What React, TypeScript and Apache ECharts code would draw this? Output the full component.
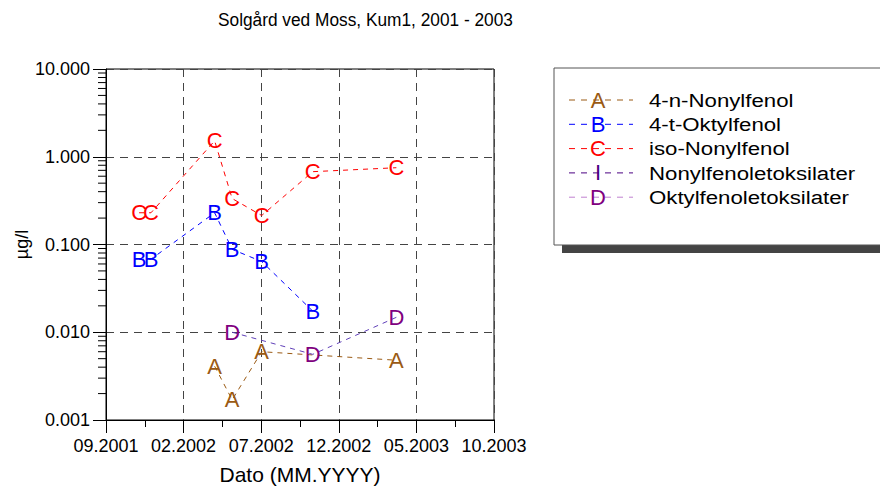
import React, { useEffect, useRef } from "react";
import * as echarts from "echarts";

const TITLE = "Solgård ved Moss, Kum1, 2001 - 2003";
const X_NAME = "Dato (MM.YYYY)";
const Y_NAME = "µg/l";
const X_ORIGIN_YEAR = 2001;
const X_ORIGIN_MONTH = 9;
const X_SPAN_MONTHS = 25;
const X_STEP_MONTHS = 5;
const Y_MIN = 0.001;
const Y_MAX = 10;

const sampleDates = [
  "2001-11-05",
  "2001-11-28",
  "2002-04-01",
  "2002-05-05",
  "2002-07-02",
  "2002-10-11",
  "2003-03-23",
];

const seriesNames = [
  "4-n-Nonylfenol",
  "4-t-Oktylfenol",
  "iso-Nonylfenol",
  "Nonylfenoletoksilater",
  "Oktylfenoletoksilater",
];
const seriesLetters = ["A", "B", "C", "I", "D"];

const valuesA = [null, null, 0.0041, 0.0017, 0.006, null, 0.0048];
const valuesB = [0.068, 0.068, 0.23, 0.088, 0.064, 0.0174, null];
const valuesC = [0.23, 0.23, 1.52, 0.334, 0.214, 0.676, 0.75];
const valuesI = [null, null, null, null, null, null, null];
const valuesD = [null, null, null, 0.01, null, 0.0056, 0.0148];
const seriesValues = [valuesA, valuesB, valuesC, valuesI, valuesD];

const markerColors = ["#9a5a14", "#0000ff", "#ff0000", "#4b0082", "#800080"];
const lineColors = ["#9a5a14", "#0000ff", "#ff0000", "#4b0082", "#6040b8"];
const legendLineColors = ["#9a5a14", "#0000ff", "#ff0000", "#4b0082", "#c080d0"];

const FONT = "'Liberation Sans', Arial, sans-serif";

function toMonthIndex(d: string): number {
  const [y, m, day] = d.split("-").map(Number);
  const days = new Date(y, m, 0).getDate();
  return (y - X_ORIGIN_YEAR) * 12 + (m - X_ORIGIN_MONTH) + (day - 1) / days;
}

function monthLabel(v: number): string {
  const total = X_ORIGIN_MONTH - 1 + Math.round(v);
  const y = X_ORIGIN_YEAR + Math.floor(total / 12);
  const m = (total % 12) + 1;
  return (m < 10 ? "0" : "") + m + "." + y;
}

export default function App() {
  const ref = useRef<HTMLDivElement>(null);
  useEffect(() => {
    document.body.style.margin = "0";
    if (!ref.current) return;
    const chart = echarts.init(ref.current, undefined, { renderer: "svg" });

    const xs = sampleDates.map(toMonthIndex);
    const minorTickValues: number[][] = [];
    for (let k = -3; k < 1; k++) {
      for (let j = 2; j <= 9; j++) minorTickValues.push([0, j * Math.pow(10, k)]);
    }

    const series: any[] = [];
    seriesValues.forEach((vals, i) => {
      const pts = vals
        .map((v, j) => (v == null ? null : [xs[j], v]))
        .filter((p) => p !== null);
      series.push({
        type: "line",
        name: seriesNames[i],
        data: pts,
        symbol: "none",
        silent: true,
        lineStyle: { color: lineColors[i], width: 1, type: [5, 5] },
        z: 3,
      });
      series.push({
        type: "custom",
        name: seriesNames[i] + "-letters",
        data: pts,
        silent: true,
        clip: false,
        z: 4,
        renderItem: (params: any, api: any) => {
          const p = api.coord([api.value(0), api.value(1)]);
          return {
            type: "text",
            x: p[0],
            y: p[1],
            style: {
              text: seriesLetters[i],
              fill: markerColors[i],
              fontSize: 22,
              fontFamily: FONT,
              align: "center",
              verticalAlign: "middle",
            },
          };
        },
      });
    });

    series.push({
      type: "custom",
      name: "minor-y-ticks",
      data: minorTickValues,
      silent: true,
      clip: false,
      z: 5,
      renderItem: (params: any, api: any) => {
        const p = api.coord([api.value(0), api.value(1)]);
        return {
          type: "line",
          shape: { x1: p[0] - 8, y1: p[1], x2: p[0], y2: p[1] },
          style: { stroke: "#000", lineWidth: 1 },
        };
      },
    });

    const legendX = 554;
    const legendY = 68;
    const graphics: any[] = [
      {
        type: "text",
        x: 218,
        y: 20,
        scaleX: 0.91,
        style: {
          text: TITLE,
          fill: "#000",
          fontSize: 19,
          fontFamily: FONT,
          align: "left",
          verticalAlign: "middle",
        },
        silent: true,
      },
      {
        type: "rect",
        shape: { x: legendX + 8, y: legendY + 8, width: 340, height: 177 },
        style: { fill: "#444" },
        silent: true,
      },
      {
        type: "rect",
        shape: { x: legendX, y: legendY, width: 340, height: 177 },
        style: { fill: "#fff", stroke: "#555", lineWidth: 1 },
        silent: true,
      },
    ];
    seriesNames.forEach((name, i) => {
      const ry = legendY + 32 + i * 24.3;
      graphics.push({
        type: "line",
        shape: { x1: legendX + 15, y1: ry, x2: legendX + 79, y2: ry },
        style: { stroke: legendLineColors[i], lineWidth: 1, lineDash: [6, 6] },
        silent: true,
      });
      graphics.push({
        type: "text",
        x: legendX + 44,
        y: ry,
        style: {
          text: seriesLetters[i],
          fill: markerColors[i],
          fontSize: 22,
          fontFamily: FONT,
          align: "center",
          verticalAlign: "middle",
        },
        silent: true,
      });
      graphics.push({
        type: "text",
        x: legendX + 95,
        y: ry,
        scaleX: 1.17,
        style: {
          text: name,
          fill: "#000",
          fontSize: 19,
          fontFamily: FONT,
          align: "left",
          verticalAlign: "middle",
        },
        silent: true,
      });
    });

    chart.setOption({
      animation: false,
      textStyle: { fontFamily: FONT },
      grid: {
        left: 106,
        top: 69,
        width: 388,
        height: 353,
        show: true,
        borderColor: "#000",
        borderWidth: 1,
        backgroundColor: "transparent",
      },
      xAxis: {
        type: "value",
        min: 0,
        max: X_SPAN_MONTHS,
        interval: X_STEP_MONTHS,
        name: X_NAME,
        nameLocation: "middle",
        nameGap: 44,
        nameTextStyle: { fontSize: 21, color: "#000", fontFamily: FONT },
        axisLine: { show: true, lineStyle: { color: "#000", width: 1 } },
        axisTick: { show: true, length: 13, lineStyle: { color: "#000" } },
        minorTick: { show: true, splitNumber: 2, length: 7, lineStyle: { color: "#000" } },
        axisLabel: {
          formatter: (v: number) => monthLabel(v),
          fontSize: 18,
          color: "#000",
          margin: 17,
          fontFamily: FONT,
          showMinLabel: true,
          showMaxLabel: true,
        },
        splitLine: { show: true, lineStyle: { color: "#444", type: [8, 6], width: 1 } },
      },
      yAxis: {
        type: "log",
        logBase: 10,
        min: Y_MIN,
        max: Y_MAX,
        name: Y_NAME,
        nameLocation: "middle",
        nameGap: 74,
        nameTextStyle: { fontSize: 18, color: "#000", fontFamily: FONT },
        axisLine: { show: true, lineStyle: { color: "#000", width: 1 } },
        axisTick: { show: true, length: 13, lineStyle: { color: "#000" } },
        axisLabel: {
          formatter: (v: number) => Number(v).toFixed(3),
          fontSize: 18,
          color: "#000",
          margin: 16,
          fontFamily: FONT,
        },
        splitLine: { show: true, lineStyle: { color: "#444", type: [8, 6], width: 1 } },
      },
      graphic: graphics,
      series,
    });
    return () => chart.dispose();
  }, []);
  return <div ref={ref} style={{ width: 880, height: 490 }} />;
}
